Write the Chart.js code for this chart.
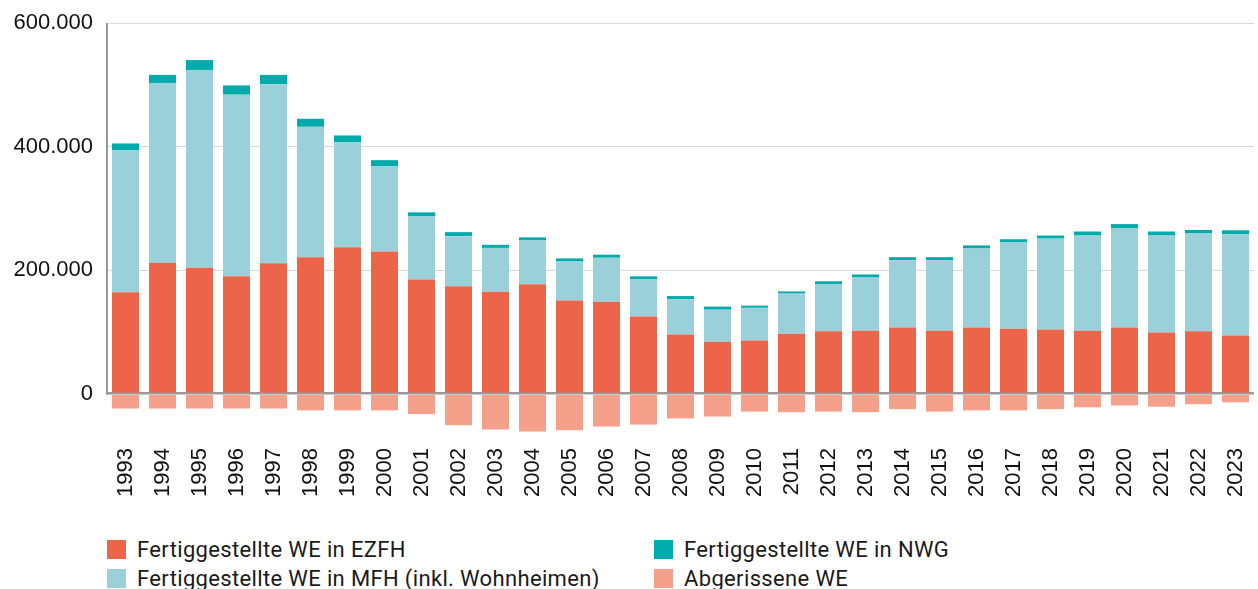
<!DOCTYPE html>
<html lang="de">
<head>
<meta charset="utf-8">
<script src="https://cdn.jsdelivr.net/npm/chart.js@4.4.1/dist/chart.umd.min.js"></script>
<style>
  html, body { margin: 0; padding: 0; background: #fff; }
  #wrap { position: relative; width: 1258px; height: 589px; }
  #chartBox { position: absolute; left: 0; top: 0; width: 1258px; height: 520px; }
  #legende { position: absolute; left: 107px; top: 537px; width: 1150px; font-family: Roboto, sans-serif; font-size: 22px; letter-spacing: 0.35px; color: #1a1a1a; }
  .item { position: absolute; display: flex; align-items: center; white-space: nowrap; height: 25px; }
  .box { width: 19px; height: 19px; margin-right: 11px; }
</style>
</head>
<body>
<div id="wrap">
  <div id="chartBox"><canvas id="grafico"></canvas></div>
  <div id="legende"></div>
</div>
<script>
// Jahre
const jahre = ["1993","1994","1995","1996","1997","1998","1999","2000","2001","2002","2003","2004","2005","2006","2007","2008","2009","2010","2011","2012","2013","2014","2015","2016","2017","2018","2019","2020","2021","2022","2023"];

// Fertiggestellte WE in EZFH
const ezfh = [164000,212000,204000,190000,211000,221000,237000,230000,185000,174000,165000,177000,151000,149000,125000,96000,84000,86000,97000,101000,102000,107000,102000,107000,105000,104000,102000,107000,99000,101000,94000];

// Fertiggestellte WE in MFH (inkl. Wohnheimen)
const mfh = [230000,291000,320000,294000,290000,211000,170000,138000,102000,81000,71000,71000,63000,71000,60000,57000,52000,53000,65000,76000,86000,109000,114000,128000,140000,147000,154000,161000,157000,159000,164000];

// Fertiggestellte WE in NWG
const nwg = [11000,13000,16000,15000,15000,13000,11000,10000,6500,6500,5000,5000,5000,5000,5000,5000,5000,3500,3500,5000,5000,5000,5000,5000,5000,5000,6500,6500,6500,5000,6500];

// Abgerissene WE (negativ)
const abriss = [-24000,-24000,-24000,-24000,-24000,-27000,-27000,-27000,-33000,-51000,-58000,-61000,-59000,-53000,-50000,-40000,-37000,-29000,-30000,-29000,-30000,-25000,-29000,-27000,-27000,-25000,-22000,-19000,-21000,-17000,-14000];

// Achsenbeschriftung y
const yTicks = [0, 200000, 400000, 600000];

const farben = {
    ezfh: "#EC654A",
    mfh: "#9AD0D9",
    nwg: "#00ABAB",
    abriss: "#F4A08A"
};

function tausender(v) {
    return String(v).replace(/\B(?=(\d{3})+(?!\d))/g, ".");
}

// linke Achse nur bis zur Nulllinie
const achsenLinie = {
    id: "achsenLinie",
    afterDraw(chart) {
        const c = chart.ctx;
        const y = chart.scales.y;
        const x0 = chart.chartArea.left;
        c.save();
        c.strokeStyle = "#9a9a9a";
        c.lineWidth = 2;
        c.beginPath();
        c.moveTo(x0, chart.chartArea.top);
        c.lineTo(x0, y.getPixelForValue(0) + 1);
        c.stroke();
        c.restore();
    }
};

const ctx = document.getElementById("grafico").getContext("2d");
const chart = new Chart(ctx, {
    type: "bar",
    data: {
        labels: jahre,
        datasets: [
            { label: "Fertiggestellte WE in EZFH", data: ezfh, backgroundColor: farben.ezfh, stack: "s" },
            { label: "Fertiggestellte WE in MFH (inkl. Wohnheimen)", data: mfh, backgroundColor: farben.mfh, stack: "s" },
            { label: "Fertiggestellte WE in NWG", data: nwg, backgroundColor: farben.nwg, stack: "s" },
            { label: "Abgerissene WE", data: abriss, backgroundColor: farben.abriss, stack: "s" }
        ]
    },
    options: {
        responsive: true,
        maintainAspectRatio: false,
        animation: false,
        barPercentage: 0.73,
        categoryPercentage: 1.0,
        layout: { padding: { top: 23, right: 4, left: 12, bottom: 0 } },
        plugins: {
            legend: { display: false },
            tooltip: { enabled: false }
        },
        scales: {
            x: {
                stacked: true,
                grid: { display: false, drawTicks: false },
                border: { display: false },
                ticks: {
                    color: "#111",
                    font: { family: "'Liberation Sans', Arial, sans-serif", size: 22 },
                    maxRotation: 90,
                    minRotation: 90,
                    padding: 16,
                    autoSkip: false
                },
                afterFit: s => { s.height = 88; s.paddingLeft = 0; s.paddingRight = 0; }
            },
            y: {
                stacked: true,
                min: -62000,
                max: 600000,
                afterBuildTicks: s => { s.ticks = yTicks.map(v => ({ value: v })); },
                grid: {
                    drawTicks: false,
                    color: c => c.tick && c.tick.value === 0 ? "#9a9a9a" : "#d9d9d9",
                    lineWidth: c => c.tick && c.tick.value === 0 ? 2.5 : 1
                },
                border: { display: false },
                ticks: {
                    color: "#111",
                    font: { family: "'Liberation Sans', Arial, sans-serif", size: 22 },
                    padding: 14,
                    callback: v => tausender(v)
                },
                afterFit: s => { s.width = 95; s.paddingTop = 0; s.paddingBottom = 0; }
            }
        }
    },
    plugins: [achsenLinie]
});

// Legende (2 Spalten)
const legende = document.getElementById("legende");
const pos = [[0, 0], [0, 29], [547, 0], [547, 29]];
const reihenfolge = [0, 1, 2, 3];
reihenfolge.forEach((i, k) => {
    const ds = chart.data.datasets[i];
    const el = document.createElement("div");
    el.className = "item";
    el.style.left = pos[k][0] + "px";
    el.style.top = pos[k][1] + "px";
    el.innerHTML = '<span class="box" style="background:' + ds.backgroundColor + '"></span><span>' + ds.label + '</span>';
    legende.appendChild(el);
});
</script>
</body>
</html>
